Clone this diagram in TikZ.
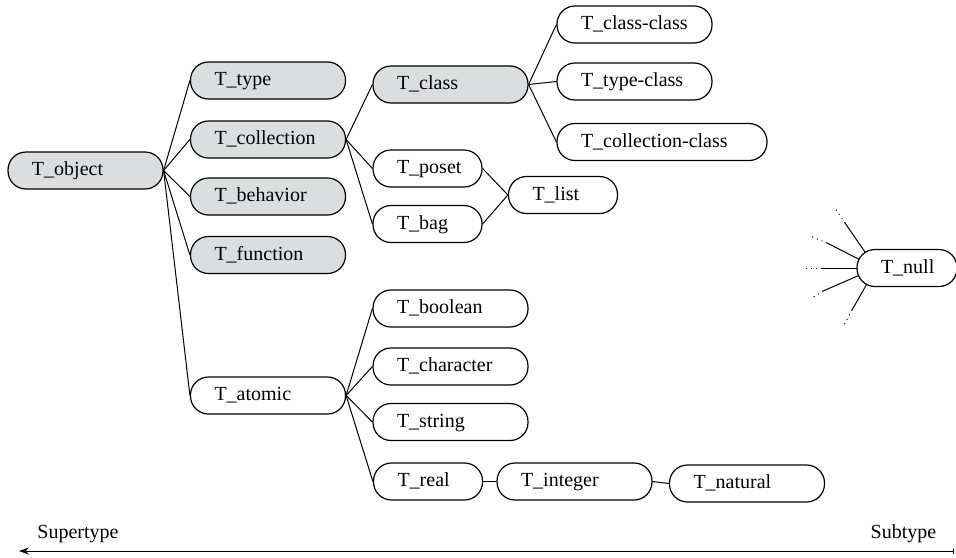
\documentclass[tikz,border=0pt]{standalone}
\usepackage{fontspec}
\setmainfont{Liberation Serif}
\usetikzlibrary{arrows.meta}
\definecolor{boxgray}{RGB}{220,221,222}

\begin{document}
\begin{tikzpicture}[x=0.5pt,y=-0.5pt,
    typebox/.style={draw,line width=0.6pt,fill=white,rounded corners=9pt,minimum height=18.5pt,
      inner xsep=12pt,inner ysep=0pt,text width=53.5pt,align=left,text height=7pt,text depth=2pt},
    abstract/.style={typebox,fill=boxgray},
    narrow/.style={text width=30.5pt},
    extrawide/.style={text width=81pt},
    link/.style={line width=0.5pt}]
      \useasboundingbox (0,0) rectangle (956,557);
      % left part of the lattice
      \node[abstract] (obj) at (85.5,170.5) {T\_object};
      \node[abstract] (type) at (268,80.5) {T\_type};
      \node[abstract] (coll) at (268,139.5) {T\_collection};
      \node[abstract] (behav) at (268,196.5) {T\_behavior};
      \node[abstract] (func) at (268,255) {T\_function};
      \node[typebox] (atomic) at (268,395.5) {T\_atomic};
      \draw[link] (obj.east) -- (type.west);
      \draw[link] (obj.east) -- (coll.west);
      \draw[link] (obj.east) -- (behav.west);
      \draw[link] (obj.east) -- (func.west);
      \draw[link] (obj.east) -- (atomic.west);
      % collections
      \node[abstract] (class) at (450.5,84.5) {T\_class};
      \node[typebox,narrow] (poset) at (427.5,168.5) {T\_poset};
      \node[typebox,narrow] (bag) at (427.5,224) {T\_bag};
      \node[typebox,narrow] (list) at (563,195) {T\_list};
      \node[typebox] (classclass) at (634.5,24.5) {T\_class-class};
      \node[typebox] (typeclass) at (634.5,81.5) {T\_type-class};
      \node[typebox,extrawide] (collclass) at (662,142) {T\_collection-class};
      \draw[link] (coll.east) -- (class.west);
      \draw[link] (coll.east) -- (poset.west);
      \draw[link] (coll.east) -- (bag.west);
      \draw[link] (poset.east) -- (list.west);
      \draw[link] (bag.east) -- (list.west);
      \draw[link] (class.east) -- (classclass.west);
      \draw[link] (class.east) -- (typeclass.west);
      \draw[link] (class.east) -- (collclass.west);
      % atomic types
      \node[typebox] (boolean) at (450.5,308.5) {T\_boolean};
      \node[typebox] (character) at (450.5,366.5) {T\_character};
      \node[typebox] (string) at (450.5,422) {T\_string};
      \node[typebox,narrow] (real) at (428,481.5) {T\_real};
      \node[typebox] (integer) at (574.5,481.5) {T\_integer};
      \node[typebox] (natural) at (747,483.5) {T\_natural};
      \draw[link] (atomic.east) -- (boolean.west);
      \draw[link] (atomic.east) -- (character.west);
      \draw[link] (atomic.east) -- (string.west);
      \draw[link] (atomic.east) -- (real.west);
      \draw[link] (real.east) -- (integer.west);
      \draw[link] (integer.east) -- (natural.west);
      % bottom of the lattice
      \coordinate (nc) at (876,268);
      \coordinate (n1) at (845,223);
      \coordinate (n1d) at (835,208);
      \coordinate (n2) at (827,243);
      \coordinate (n2d) at (810,236);
      \coordinate (n3) at (822,268);
      \coordinate (n3d) at (803,268);
      \coordinate (n4) at (823,291);
      \coordinate (n4d) at (812,298);
      \coordinate (n5) at (852,310);
      \coordinate (n5d) at (843,327);
      \draw[link] (nc) -- (n1); \draw[link,dotted] (n1) -- (n1d);
      \draw[link] (nc) -- (n2); \draw[link,dotted] (n2) -- (n2d);
      \draw[link] (nc) -- (n3); \draw[link,dotted] (n3) -- (n3d);
      \draw[link] (nc) -- (n4); \draw[link,dotted] (n4) -- (n4d);
      \draw[link] (nc) -- (n5); \draw[link,dotted] (n5) -- (n5d);
      \node[typebox,text width=26pt] (null) at (907,268) {T\_null};
      % direction axis
      \coordinate (supend) at (19,551);
      \coordinate (subend) at (954,551);
      \draw[link,{Stealth[length=5pt,width=3.5pt]}-{Bar[width=2.5pt]}] (supend) -- (subend);
      \node (super) at (78,534) {Supertype};
      \node (sub) at (903.5,534) {Subtype};
    \end{tikzpicture}
\end{document}
